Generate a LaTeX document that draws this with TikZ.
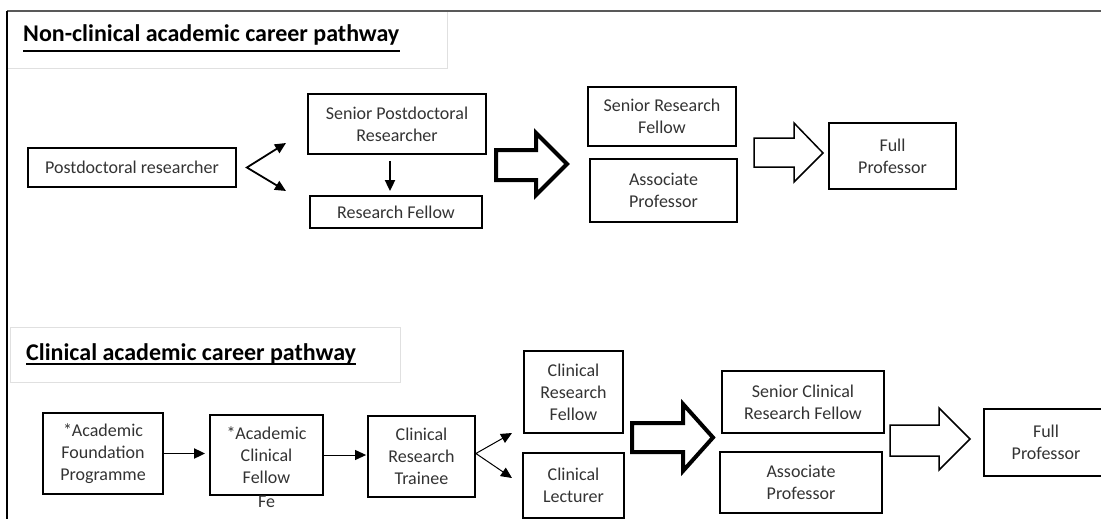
\documentclass[tikz,border=0pt]{standalone}
\usepackage{fontspec}
\setmainfont{Carlito}
\usetikzlibrary{arrows.meta,calc}

\begin{document}
\begin{tikzpicture}[x=1pt, y=-1pt, >={Triangle[length=11pt,width=10pt]},
    box/.style={draw, line width=1.8pt, inner sep=0pt, align=center, text=black!80, font=\fontsize{18}{22}\selectfont},
    titlebox/.style={draw=black!12, line width=1pt},
    titletext/.style={anchor=base west, inner sep=0pt, font=\fontsize{24}{28}\selectfont\bfseries},
    arr/.style={->, line width=1.8pt, line join=miter},
    thinarr/.style={->, line width=1pt, line join=miter},
    bigarr/.style={draw, line width=4pt, fill=white, line join=miter},
    whitearr/.style={draw, line width=1.5pt, fill=white, line join=miter}]
    \useasboundingbox (0,0) rectangle (1101,519);

    % Frame and title boxes
    \draw[titlebox] (7,11) rectangle (447,69);
    \draw[titlebox] (10,327) rectangle (400,382);
    \draw[black!65, line width=2pt] (7,11) -- (1101,11);
    \draw[black, line width=2pt] (7,11) -- (7,519);
    \node[titletext] (nctitle) at (23,42) {Non-clinical academic career pathway};
    \node[titletext] (ctitle) at (26,360) {Clinical academic career pathway};
    \draw[line width=1.6pt] ([yshift=-9pt]nctitle.base west) -- ([yshift=-9pt]nctitle.base east);
    \draw[line width=1.6pt] ([yshift=-4pt]ctitle.base west) -- ([yshift=-4pt]ctitle.base east);

    % Non-clinical pathway
    \node[box, minimum width=208pt, minimum height=39pt] (pdr) at (132,167.5) {Postdoctoral researcher};
    \node[box, minimum width=178pt, minimum height=60pt] (spr) at (397,124) {Senior Postdoctoral\\Researcher};
    \node[box, minimum width=172pt, minimum height=32pt] (rf) at (396,212) {Research Fellow};
    \node[box, minimum width=148pt, minimum height=59pt] (srf) at (662,116.5) {Senior Research\\Fellow};
    \node[box, minimum width=147pt, minimum height=63pt] (ap1) at (663.5,190.5) {Associate\\Professor};
    \node[box, minimum width=127pt, minimum height=66pt] (fp1) at (892.5,156) {Full\\Professor};

    \coordinate (fork1) at ($(pdr.east)+(10,0)$);
    \coordinate (up1) at (286,143);
    \coordinate (dn1) at (286,191);
    \draw[arr, <->] (up1) -- (fork1) -- (dn1);
    \draw[arr, shorten <=6pt, shorten >=4pt] ([xshift=-7pt]spr.south) -- ([xshift=-6pt]rf.north);

    \draw[bigarr] (496,150) -- (536,150) -- (536,133) -- (567,164) -- (536,195) -- (536,180) -- (496,180) -- cycle;
    \draw[whitearr] (754,138) -- (794,138) -- (794,123) -- (823,153) -- (794,182) -- (794,167) -- (754,167) -- cycle;

    % Clinical pathway
    \node[box, minimum width=120pt, minimum height=81pt] (afp) at (103,453.5) {*Academic\\Foundation\\Programme};
    \node[box, minimum width=113pt, minimum height=80pt] (acf) at (266.5,455) {*Academic\\Clinical\\Fellow};
    \node[anchor=base, inner sep=0pt, text=black!80, font=\fontsize{18}{22}\selectfont] (fe) at (266.5,507) {Fe};
    \node[box, minimum width=107pt, minimum height=81pt] (crt) at (421.5,456.5) {Clinical\\Research\\Trainee};
    \node[box, minimum width=99pt, minimum height=82pt] (crf) at (573.5,392) {Clinical\\Research\\Fellow};
    \node[box, minimum width=101pt, minimum height=65pt] (cl) at (573.5,485.5) {Clinical\\Lecturer};
    \node[box, minimum width=162pt, minimum height=62pt] (scrf) at (803,402) {Senior Clinical\\Research Fellow};
    \node[box, minimum width=162pt, minimum height=61pt] (ap2) at (801,482.5) {Associate\\Professor};
    \node[box, minimum width=124pt, minimum height=67pt] (fp2) at (1046,442.5) {Full\\Professor};

    \draw[arr, shorten >=4pt] (afp.east) -- (afp.east -| acf.west);
    \draw[thinarr, shorten >=1pt] (acf.east) -- (acf.east -| crt.west);
    \coordinate (fork2) at ($(crt.east)+(0,-3)$);
    \coordinate (up2) at (512,433);
    \coordinate (dn2) at (512,478);
    \draw[thinarr, <->] (up2) -- (fork2) -- (dn2);

    \draw[bigarr] (632,423) -- (683,423) -- (683,404) -- (713,437.5) -- (683,471) -- (683,452) -- (632,452) -- cycle;
    \draw[whitearr] (890,425) -- (939,425) -- (939,408) -- (970,439) -- (939,470) -- (939,456) -- (890,456) -- cycle;
\end{tikzpicture}
\end{document}
